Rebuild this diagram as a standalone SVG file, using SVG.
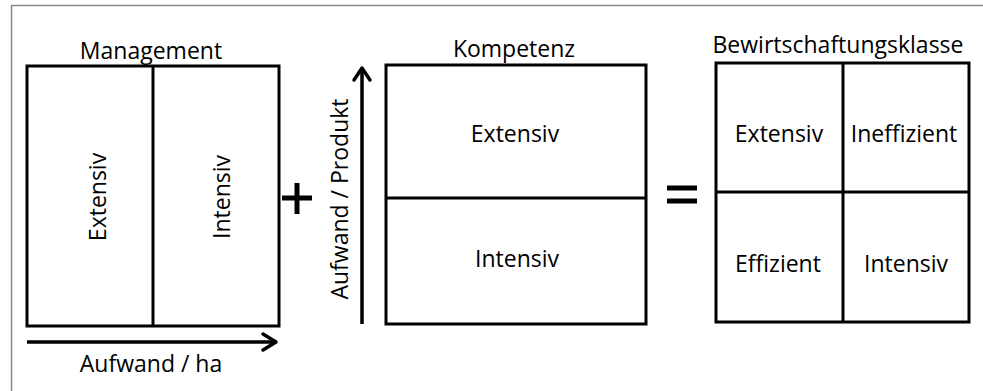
<svg xmlns="http://www.w3.org/2000/svg" width="983" height="391" viewBox="0 0 983 391">
<defs>
<style>
.t{font-family:"Open Sans","Liberation Sans",sans-serif;font-size:23px;fill:#000;text-anchor:middle}
.box{fill:#fff;stroke:#000;stroke-width:3}
.ln{stroke:#000;stroke-width:3;fill:none}
.arr{stroke:#000;stroke-width:3.5;fill:none}
.head{stroke:#000;stroke-width:3.5;fill:none;stroke-linecap:round;stroke-linejoin:round}
.op{stroke:#000;stroke-width:5;fill:none}
</style>
</defs>
<rect width="983" height="391" fill="#fff"/>
<path d="M11.5,391 V5.5 H983" fill="none" stroke="#8a8a8a" stroke-width="1.5"/>

<g id="management">
<text class="t" x="151" y="59">Management</text>
<rect class="box" x="27" y="66" width="252" height="260"/>
<line class="ln" x1="153" y1="66" x2="153" y2="326"/>
<text class="t" transform="translate(106,197) rotate(-90)">Extensiv</text>
<text class="t" transform="translate(230,197) rotate(-90)">Intensiv</text>
</g>

<g id="kompetenz">
<text class="t" x="514" y="57">Kompetenz</text>
<rect class="box" x="386" y="65" width="260" height="259"/>
<line class="ln" x1="386" y1="198" x2="646" y2="198"/>
<text class="t" x="515" y="142">Extensiv</text>
<text class="t" x="517" y="267">Intensiv</text>
</g>

<g id="bewirtschaftungsklasse">
<text class="t" x="838" y="53">Bewirtschaftungsklasse</text>
<rect class="box" x="716" y="63" width="253" height="259"/>
<line class="ln" x1="843" y1="63" x2="843" y2="322"/>
<line class="ln" x1="716" y1="192" x2="969" y2="192"/>
<text class="t" x="779" y="142">Extensiv</text>
<text class="t" x="904" y="142">Ineffizient</text>
<text class="t" x="778" y="272">Effizient</text>
<text class="t" x="906" y="272">Intensiv</text>
</g>

<g id="connectors">
<line class="arr" x1="27" y1="342" x2="275" y2="342"/>
<path class="head" d="M263,334 L276,342 L263,350"/>
<text class="t" x="151" y="372">Aufwand / ha</text>
<line class="arr" x1="362" y1="324" x2="362" y2="70"/>
<path class="head" d="M354,80 L362,68 L370,80"/>
<text class="t" transform="translate(348,199) rotate(-90)">Aufwand / Produkt</text>
</g>

<g id="operators">
<path class="op" d="M282,198 H312 M297,183 V214"/>
<path class="op" d="M667,188 H697 M667,201 H697"/>
</g>
</svg>
